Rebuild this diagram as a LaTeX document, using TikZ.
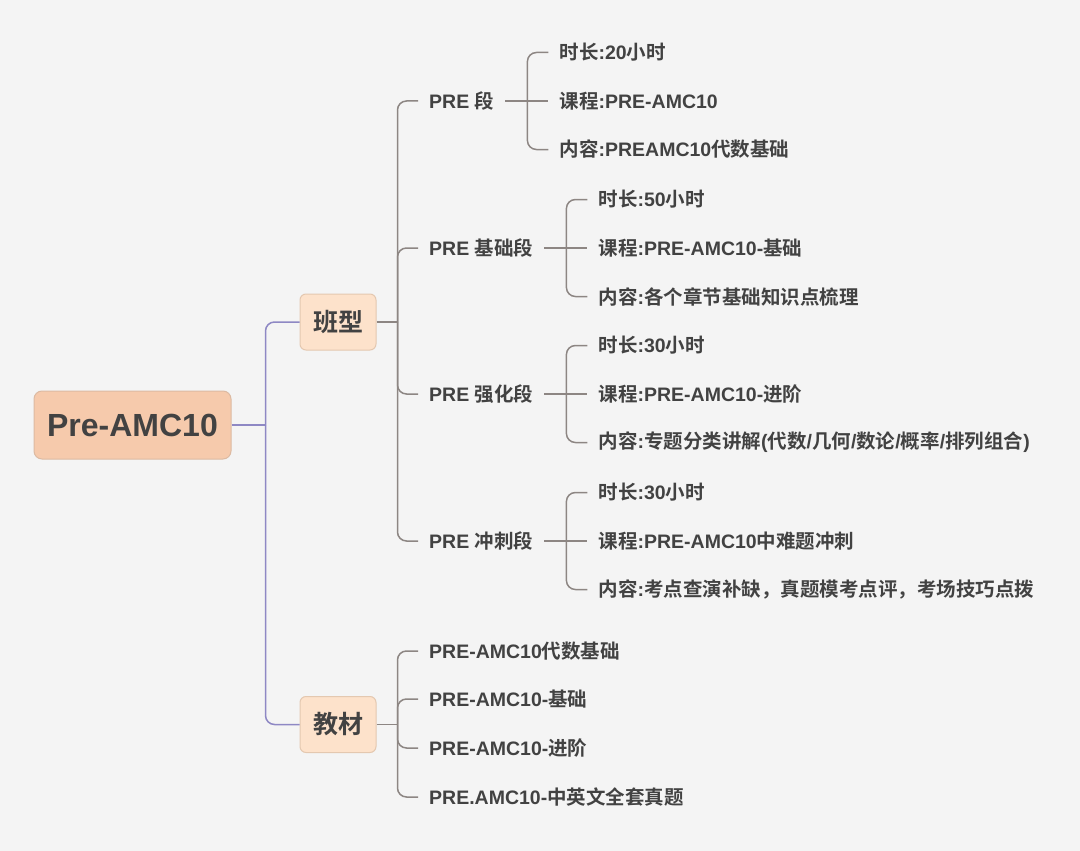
\documentclass[tikz,border=0pt]{standalone}
\usepackage{fontspec}
\usetikzlibrary{positioning}
\setmainfont{Liberation Sans}
\newfontfamily\cjkfont{Noto Sans CJK SC}[BoldFont={Noto Sans CJK SC Bold}]
% switch to the CJK family for Han characters
\XeTeXinterchartokenstate=1
\newXeTeXintercharclass\cjkcls
\newcount\cjkcnt
\cjkcnt="4E00
\loop\XeTeXcharclass\cjkcnt=\cjkcls
\ifnum\cjkcnt<"9FFF \advance\cjkcnt by 1 \repeat
\XeTeXcharclass"FF0C=\cjkcls
\XeTeXinterchartoks 0 \cjkcls={\cjkfont}
\XeTeXinterchartoks 4095 \cjkcls={\cjkfont}
\XeTeXinterchartoks \cjkcls 0={\rmfamily}
\XeTeXinterchartoks \cjkcls 4095={\rmfamily}
\definecolor{mapbg}{RGB}{244,244,244}
\definecolor{rootfill}{RGB}{246,202,172}
\definecolor{rootline}{RGB}{220,186,162}
\definecolor{catfill}{RGB}{253,226,203}
\definecolor{catline}{RGB}{228,200,176}
\definecolor{mappurple}{RGB}{142,136,196}
\definecolor{mapgrey}{RGB}{141,134,131}
\definecolor{maptext}{RGB}{66,66,66}

\begin{document}
\begin{tikzpicture}[x=1pt, y=-1pt,
    rootbox/.style={draw=rootline, fill=rootfill, rounded corners=8pt, line width=1pt, minimum width=197pt, minimum height=68pt, font=\fontsize{32}{36}\selectfont\bfseries},
    catbox/.style={draw=catline, fill=catfill, rounded corners=6pt, line width=1pt, minimum width=76pt, minimum height=56pt, font=\fontsize{25}{28}\selectfont\bfseries},
    txt/.style={anchor=west, inner xsep=11pt, inner ysep=2pt, font=\fontsize{19.5}{23}\selectfont\bfseries},
    link/.style={draw=mappurple, line width=1.5pt, rounded corners=9pt},
    branch/.style={draw=mapgrey, line width=1.5pt, rounded corners=9pt},
    text=maptext
]
\fill[mapbg] (0,0) rectangle (1080,851);
\node[rootbox] (root) at (132.5,425) {Pre-AMC10};
\node[catbox] (ban) at (338,322) {班型};
\node[catbox] (jc) at (338,724.5) {教材};
\draw[link] (root.east) -- ++(34,0) coordinate (root-t);
\draw[link] (root-t) |- (ban.west);
\draw[link] (root-t) |- (jc.west);

% stages
\node[txt] (pre) at (418,101) {PRE 段};
\node[txt] (base) at (418,248) {PRE 基础段};
\node[txt] (adv) at (418,394) {PRE 强化段};
\node[txt] (spr) at (418,541) {PRE 冲刺段};
\draw[branch] (ban.east) -- ++(21,0) coordinate (ban-t);
\foreach \s in {pre,base,adv,spr} {
  \draw[branch] (ban-t) |- (\s.west);
  \draw[branch] (\s.east) -- ++(22,0) coordinate (\s-t);
}

\node[txt, right=21pt of pre-t, yshift=48.5pt] (pre1) {时长:20小时};
\node[txt, right=21pt of pre-t] (pre2) {课程:PRE-AMC10};
\node[txt, right=21pt of pre-t, yshift=-48.5pt] (pre3) {内容:PREAMC10代数基础};

\node[txt, right=21pt of base-t, yshift=48.5pt] (base1) {时长:50小时};
\node[txt, right=21pt of base-t] (base2) {课程:PRE-AMC10-基础};
\node[txt, right=21pt of base-t, yshift=-48.5pt] (base3) {内容:各个章节基础知识点梳理};

\node[txt, right=21pt of adv-t, yshift=48.5pt] (adv1) {时长:30小时};
\node[txt, right=21pt of adv-t] (adv2) {课程:PRE-AMC10-进阶};
\node[txt, right=21pt of adv-t, yshift=-48.5pt] (adv3) {内容:专题分类讲解(代数/几何/数论/概率/排列组合)};

\node[txt, right=21pt of spr-t, yshift=48.5pt] (spr1) {时长:30小时};
\node[txt, right=21pt of spr-t] (spr2) {课程:PRE-AMC10中难题冲刺};
\node[txt, right=21pt of spr-t, yshift=-48.5pt] (spr3) {内容:考点查演补缺，真题模考点评，考场技巧点拨};

\foreach \s in {pre,base,adv,spr} {
  \draw[branch] (\s-t) |- (\s1.west);
  \draw[branch] (\s-t) -- (\s2.west);
  \draw[branch] (\s-t) |- (\s3.west);
}

% books
\node[txt] (book1) at (418,651) {PRE-AMC10代数基础};
\node[txt] (book2) at (418,699) {PRE-AMC10-基础};
\node[txt] (book3) at (418,748) {PRE-AMC10-进阶};
\node[txt] (book4) at (418,797) {PRE.AMC10-中英文全套真题};
\draw[branch] (jc.east) -- ++(21,0) coordinate (jc-t);
\foreach \i in {1,...,4}
  \draw[branch] (jc-t) |- (book\i.west);
\end{tikzpicture}
\end{document}
